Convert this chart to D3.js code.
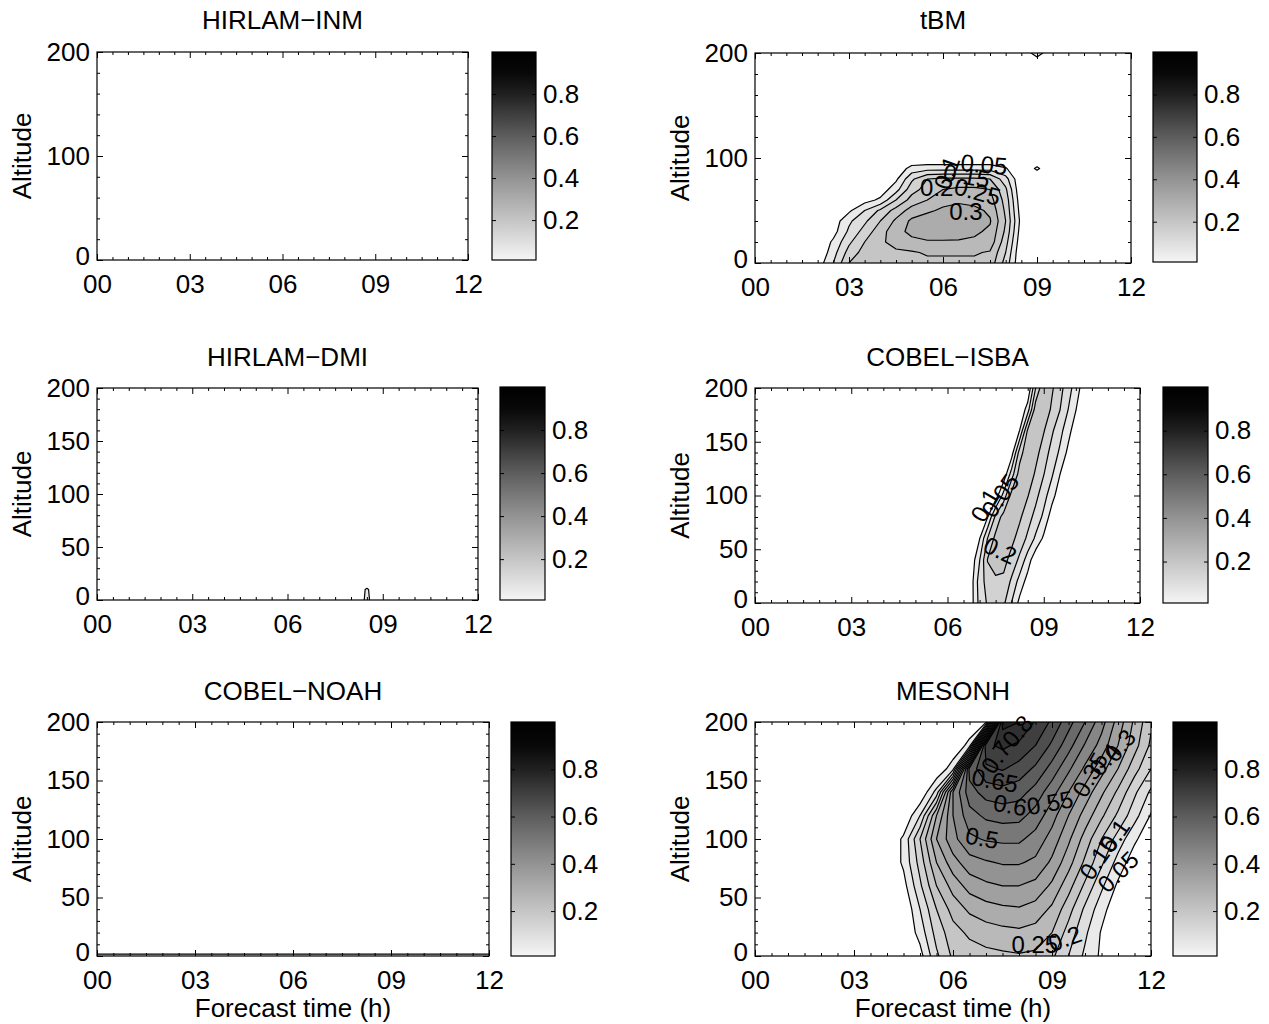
<!DOCTYPE html>
<html>
<head>
<meta charset="utf-8">
<script src="https://cdn.jsdelivr.net/npm/d3@7"></script>
<style>
  body { margin: 0; background: #fff; }
  svg text { font-family: "Liberation Sans", Arial, Helvetica, sans-serif; fill: #000; }
</style>
</head>
<body>
<svg id="fig" width="1269" height="1024"></svg>
<script>
// ---------------- data ----------------
const panelTitles = ["HIRLAM\u2212INM", "tBM", "HIRLAM\u2212DMI", "COBEL\u2212ISBA", "COBEL\u2212NOAH", "MESONH"];
const timeTicks = [0, 3, 6, 9, 12];
const altTicksWide = [0, 100, 200];
const altTicks = [0, 50, 100, 150, 200];
const colorbarTicks = [0.2, 0.4, 0.6, 0.8];
const contourLevels = [0.05, 0.1, 0.15, 0.2, 0.25, 0.3, 0.35, 0.4, 0.45, 0.5, 0.55, 0.6, 0.65, 0.7, 0.75, 0.8, 0.85, 0.9];

// gray colormap (value -> gray level)
const grayStopsValue = [0, 0.1, 0.2, 0.3, 0.4, 0.5, 0.6, 0.7, 0.8, 0.9, 1.0];
const grayStopsLevel = [245, 222, 197, 172, 147, 120, 93, 63, 32, 8, 0];

// tBM field: time 1.5..9.5 h (0.5 h), altitude 0..200 m (10 m); rows from the ground up
const tbmTime = [1.5, 2, 2.5, 3, 3.5, 4, 4.5, 5, 5.5, 6, 6.5, 7, 7.5, 8, 8.5, 9, 9.5];
const tbmAlt = [0, 10, 20, 30, 40, 50, 60, 70, 80, 90, 100, 110, 120, 130, 140, 150, 160, 170, 180, 190, 200];
const tbmRows = [
  [0, 0.02, 0.10, 0.20, 0.22, 0.23, 0.235, 0.24, 0.24, 0.24, 0.24, 0.24, 0.23, 0.13, 0, 0, 0],
  [0, 0, 0.08, 0.17, 0.22, 0.235, 0.24, 0.245, 0.255, 0.255, 0.255, 0.255, 0.245, 0.15, 0, 0, 0],
  [0, 0, 0.06, 0.14, 0.20, 0.24, 0.27, 0.285, 0.295, 0.295, 0.295, 0.29, 0.28, 0.17, 0.01, 0, 0],
  [0, 0, 0.03, 0.11, 0.17, 0.23, 0.28, 0.315, 0.325, 0.325, 0.32, 0.31, 0.29, 0.19, 0.02, 0, 0],
  [0, 0, 0.02, 0.09, 0.14, 0.20, 0.26, 0.31, 0.33, 0.33, 0.33, 0.32, 0.305, 0.20, 0.03, 0, 0],
  [0, 0, 0, 0.04, 0.10, 0.16, 0.22, 0.27, 0.29, 0.31, 0.32, 0.315, 0.29, 0.19, 0.02, 0, 0],
  [0, 0, 0, 0, 0.03, 0.06, 0.15, 0.22, 0.25, 0.28, 0.29, 0.28, 0.27, 0.18, 0.01, 0, 0],
  [0, 0, 0, 0, 0, 0.02, 0.08, 0.18, 0.22, 0.25, 0.26, 0.26, 0.25, 0.16, 0, 0, 0],
  [0, 0, 0, 0, 0, 0, 0.04, 0.14, 0.20, 0.21, 0.21, 0.21, 0.20, 0.12, 0, 0, 0],
  [0, 0, 0, 0, 0, 0, 0.01, 0.07, 0.08, 0.08, 0.08, 0.08, 0.08, 0.055, 0, 0, 0]
];
const tbmSpots = [[9, 200, 0.08], [9, 90, 0.06]];

// HIRLAM-DMI field: a single thin patch near the ground
const dmiTime = [7, 7.5, 8, 8.5, 9, 9.5];
const dmiAlt = [0, 10, 20, 30];
const dmiRows = [[0, 0, 0, 0.06, 0, 0], [0, 0, 0, 0.056, 0, 0]];

// COBEL-ISBA field: time 6.5..10.5 h (0.25 h), altitude 0..200 m (20 m)
const isbaTime = [6.5, 6.75, 7, 7.25, 7.5, 7.75, 8, 8.25, 8.5, 8.75, 9, 9.25, 9.5, 9.75, 10, 10.25, 10.5];
const isbaAlt = [0, 20, 40, 60, 80, 100, 120, 140, 160, 180, 200];
const isbaRows = [
  [0, 0.033, 0.117, 0.156, 0.166, 0.16, 0.098, 0.035, 0, 0, 0, 0, 0, 0, 0, 0, 0],
  [0, 0.033, 0.125, 0.17, 0.19, 0.19, 0.14, 0.08, 0.03, 0, 0, 0, 0, 0, 0, 0, 0],
  [0, 0.02, 0.098, 0.203, 0.225, 0.215, 0.183, 0.138, 0.075, 0.013, 0, 0, 0, 0, 0, 0, 0],
  [0, 0, 0.048, 0.152, 0.215, 0.235, 0.213, 0.18, 0.14, 0.09, 0.04, 0, 0, 0, 0, 0, 0],
  [0, 0, 0, 0.048, 0.163, 0.222, 0.248, 0.208, 0.171, 0.133, 0.088, 0.025, 0, 0, 0, 0, 0],
  [0, 0, 0, 0, 0.02, 0.12, 0.22, 0.245, 0.203, 0.164, 0.12, 0.07, 0.02, 0, 0, 0, 0],
  [0, 0, 0, 0, 0, 0.01, 0.125, 0.225, 0.235, 0.192, 0.152, 0.108, 0.052, 0, 0, 0, 0],
  [0, 0, 0, 0, 0, 0, 0.025, 0.175, 0.24, 0.217, 0.175, 0.133, 0.092, 0.04, 0, 0, 0],
  [0, 0, 0, 0, 0, 0, 0, 0.052, 0.21, 0.243, 0.203, 0.158, 0.117, 0.07, 0.02, 0, 0],
  [0, 0, 0, 0, 0, 0, 0, 0, 0.075, 0.23, 0.235, 0.192, 0.152, 0.102, 0.052, 0, 0],
  [0, 0, 0, 0, 0, 0, 0, 0, 0, 0.152, 0.245, 0.208, 0.167, 0.125, 0.075, 0.025, 0]
];

// COBEL-NOAH field: a thin layer at the ground
const noahTime = [0, 0.5, 1, 1.5, 2, 2.5, 3, 3.5, 4, 4.5, 5, 5.5, 6, 6.5, 7, 7.5, 8, 8.5, 9, 9.5, 10, 10.5, 11, 11.5, 12];
const noahAlt = [0, 10, 20];
const noahRows = [
  [0.06, 0.06, 0.06, 0.06, 0.06, 0.06, 0.06, 0.06, 0.06, 0.06, 0.06, 0.06, 0.06, 0.06, 0.06, 0.06, 0.06, 0.06, 0.06, 0.06, 0.06, 0.06, 0.06, 0.06, 0.06]
];

// MESONH field: time 4..12 h (0.5 h), altitude 0..200 m (20 m)
const mesonhTime = [4, 4.5, 5, 5.5, 6, 6.5, 7, 7.5, 8, 8.5, 9, 9.5, 10, 10.5, 11, 11.5, 12];
const mesonhAlt = [0, 20, 40, 60, 80, 100, 120, 140, 160, 180, 200];
const mesonhRows = [
  [0, 0, 0.03, 0.14, 0.21, 0.225, 0.235, 0.24, 0.245, 0.24, 0.21, 0.15, 0.09, 0.04, 0, 0, 0],
  [0, 0, 0.07, 0.17, 0.23, 0.26, 0.275, 0.285, 0.29, 0.28, 0.25, 0.18, 0.11, 0.045, 0, 0, 0],
  [0, 0, 0.10, 0.20, 0.27, 0.31, 0.33, 0.34, 0.345, 0.33, 0.29, 0.22, 0.14, 0.07, 0.01, 0, 0],
  [0, 0.03, 0.14, 0.25, 0.32, 0.37, 0.39, 0.40, 0.40, 0.385, 0.34, 0.27, 0.19, 0.11, 0.04, 0, 0],
  [0, 0.06, 0.17, 0.30, 0.38, 0.43, 0.445, 0.455, 0.455, 0.44, 0.39, 0.32, 0.24, 0.16, 0.08, 0.02, 0],
  [0, 0.06, 0.20, 0.35, 0.435, 0.49, 0.505, 0.51, 0.51, 0.48, 0.43, 0.36, 0.28, 0.20, 0.13, 0.06, 0.01],
  [0, 0, 0.10, 0.30, 0.45, 0.53, 0.56, 0.57, 0.566, 0.53, 0.47, 0.40, 0.33, 0.26, 0.19, 0.12, 0.045],
  [0, 0, 0, 0.12, 0.45, 0.58, 0.62, 0.63, 0.62, 0.58, 0.52, 0.45, 0.38, 0.31, 0.24, 0.16, 0.09],
  [0, 0, 0, 0, 0.083, 0.62, 0.69, 0.705, 0.68, 0.64, 0.58, 0.51, 0.44, 0.37, 0.30, 0.22, 0.15],
  [0, 0, 0, 0, 0, 0.07, 0.74, 0.76, 0.74, 0.70, 0.64, 0.57, 0.495, 0.43, 0.35, 0.27, 0.19],
  [0, 0, 0, 0, 0, 0, 0.04, 0.82, 0.80, 0.745, 0.69, 0.62, 0.55, 0.47, 0.38, 0.29, 0.21]
];

// inline contour labels: level, position (h, m) and text angle
const tbmLabels = [
  { level: 0.05, t: 7.31, a: 94, angle: 5 },
  { level: 0.1, t: 6.12, a: 86, angle: -70 },
  { level: 0.15, t: 6.75, a: 83, angle: 10 },
  { level: 0.2, t: 5.8, a: 72, angle: 0 },
  { level: 0.25, t: 7.1, a: 68, angle: 15 },
  { level: 0.3, t: 6.73, a: 49, angle: 0 }
];
const isbaLabels = [
  { level: 0.1, t: 7.17, a: 91, angle: -60 },
  { level: 0.05, t: 7.64, a: 100, angle: -55 },
  { level: 0.2, t: 7.64, a: 49, angle: 25 }
];
const mesonhLabels = [
  { level: 0.7, t: 7.3, a: 170, angle: -55 },
  { level: 0.8, t: 7.95, a: 192, angle: -50 },
  { level: 0.65, t: 7.27, a: 150, angle: 10 },
  { level: 0.6, t: 7.73, a: 129, angle: 10 },
  { level: 0.55, t: 8.94, a: 131, angle: -10 },
  { level: 0.5, t: 6.88, a: 101, angle: 10 },
  { level: 0.35, t: 10.15, a: 155, angle: -60 },
  { level: 0.4, t: 10.6, a: 168, angle: -50 },
  { level: 0.3, t: 11.06, a: 180, angle: -50 },
  { level: 0.1, t: 10.9, a: 103, angle: -55 },
  { level: 0.15, t: 10.4, a: 84, angle: -55 },
  { level: 0.05, t: 11.0, a: 72, angle: -45 },
  { level: 0.25, t: 8.48, a: 10, angle: 0 },
  { level: 0.2, t: 9.39, a: 15, angle: -20 }
];

// ---------------- layout ----------------
const layout = [
  { plot: [97, 468, 52, 260],   bar: [492, 536, 52, 260],   yTicks: altTicksWide, yMinor: 20, titleY: 29, xlab: false },
  { plot: [755, 1131, 53, 263], bar: [1153, 1197, 52, 262], yTicks: altTicksWide, yMinor: 20, titleY: 29, xlab: false },
  { plot: [97, 478, 388, 600],  bar: [500, 545, 387, 600],  yTicks: altTicks, yMinor: 10, titleY: 366, xlab: false },
  { plot: [755, 1140, 388, 603], bar: [1163, 1208, 387, 603], yTicks: altTicks, yMinor: 10, titleY: 366, xlab: false },
  { plot: [97, 489, 722, 956],  bar: [511, 555, 722, 956],  yTicks: altTicks, yMinor: 10, titleY: 700, xlab: true },
  { plot: [755, 1151, 722, 956], bar: [1173, 1217, 722, 956], yTicks: altTicks, yMinor: 10, titleY: 700, xlab: true }
];

// ---------------- helpers ----------------
function buildField(times, alts, rows, spots) {
  const nx = times.length, ny = alts.length;
  const values = new Array(nx * ny).fill(0);
  rows.forEach((r, j) => r.forEach((v, i) => { values[j * nx + i] = v; }));
  (spots || []).forEach(([t, a, v]) => {
    const i = times.indexOf(t), j = alts.indexOf(a);
    values[j * nx + i] = v;
  });
  return { times, alts, values, nx, ny };
}

const fields = [
  null,
  buildField(tbmTime, tbmAlt, tbmRows, tbmSpots),
  buildField(dmiTime, dmiAlt, dmiRows),
  buildField(isbaTime, isbaAlt, isbaRows),
  buildField(noahTime, noahAlt, noahRows),
  buildField(mesonhTime, mesonhAlt, mesonhRows)
];
const labelSets = [[], tbmLabels, [], isbaLabels, [], mesonhLabels];

const grayScale = d3.scaleLinear().domain(grayStopsValue).range(grayStopsLevel).clamp(true);
const grayOf = v => { const g = Math.round(grayScale(v)); return `rgb(${g},${g},${g})`; };

const svg = d3.select("#fig");
const defs = svg.append("defs");

// shared colorbar gradient (bottom = 0.01, top = 1.0)
const cbDomain = [0.01, 1.0];
const grad = defs.append("linearGradient").attr("id", "cbGrad")
  .attr("x1", 0).attr("y1", 1).attr("x2", 0).attr("y2", 0);
grayStopsValue.forEach(v => {
  const off = Math.max(0, (v - cbDomain[0]) / (cbDomain[1] - cbDomain[0]));
  grad.append("stop").attr("offset", off).attr("stop-color", grayOf(v));
});

const FS = 26;

layout.forEach((L, k) => {
  const [x0, x1, y0, y1] = L.plot;
  const x = d3.scaleLinear().domain([0, 12]).range([x0, x1]);
  const y = d3.scaleLinear().domain([0, 200]).range([y1, y0]);
  const g = svg.append("g");

  defs.append("clipPath").attr("id", "clip" + k)
    .append("rect").attr("x", x0).attr("y", y0).attr("width", x1 - x0).attr("height", y1 - y0);

  // filled contours
  const f = fields[k];
  if (f) {
    const dt = f.times[1] - f.times[0], da = f.alts[1] - f.alts[0];
    const proj = d3.geoTransform({
      point(px, py) {
        this.stream.point(x(f.times[0] + (px - 0.5) * dt), y(f.alts[0] + (py - 0.5) * da));
      }
    });
    const path = d3.geoPath(proj);
    const sets = d3.contours().size([f.nx, f.ny]).thresholds(contourLevels)(f.values)
      .filter(c => c.coordinates.length);
    g.append("g").attr("clip-path", `url(#clip${k})`)
      .selectAll("path").data(sets).join("path")
      .attr("d", path)
      .attr("fill", d => grayOf(d.value))
      .attr("stroke", "#000")
      .attr("stroke-width", 1.2)
      .attr("stroke-linejoin", "round");
  }

  // contour labels
  g.append("g").selectAll("text").data(labelSets[k]).join("text")
    .attr("transform", d => `translate(${x(d.t)},${y(d.a)}) rotate(${d.angle})`)
    .attr("text-anchor", "middle")
    .attr("dominant-baseline", "central")
    .attr("font-size", 24)
    .text(d => String(d.level));

  // axes (ticks pointing inward)
  const xMinor = d3.range(0, 12.01, 0.5).filter(v => v % 3 !== 0);
  const yMinor = d3.range(0, 200.01, L.yMinor).filter(v => !L.yTicks.includes(v));

  const styleAxis = sel => {
    sel.select(".domain").remove();
    sel.selectAll("line").attr("stroke", "#000").attr("stroke-width", 1);
    sel.selectAll("text").attr("font-size", FS);
    sel.attr("font-family", null).attr("font-size", null);
  };

  g.append("g").attr("transform", `translate(0,${y1})`)
    .call(d3.axisBottom(x).tickValues(timeTicks).tickSizeInner(-6).tickSizeOuter(0)
      .tickPadding(15).tickFormat(d3.format("02d"))).call(styleAxis);
  g.append("g").attr("transform", `translate(0,${y1})`)
    .call(d3.axisBottom(x).tickValues(xMinor).tickSizeInner(-3).tickSizeOuter(0).tickFormat("")).call(styleAxis);
  g.append("g").attr("transform", `translate(0,${y0})`)
    .call(d3.axisTop(x).tickValues(timeTicks).tickSizeInner(-6).tickSizeOuter(0).tickFormat("")).call(styleAxis);
  g.append("g").attr("transform", `translate(0,${y0})`)
    .call(d3.axisTop(x).tickValues(xMinor).tickSizeInner(-3).tickSizeOuter(0).tickFormat("")).call(styleAxis);

  const yAxisG = g.append("g").attr("transform", `translate(${x0},0)`)
    .call(d3.axisLeft(y).tickValues(L.yTicks).tickSizeInner(-6).tickSizeOuter(0)
      .tickPadding(7).tickFormat(d3.format("d"))).call(styleAxis);
  // lift the lowest label slightly so it clears the time labels below it
  yAxisG.selectAll(".tick text").filter(d => d === 0).attr("y", -4);
  g.append("g").attr("transform", `translate(${x0},0)`)
    .call(d3.axisLeft(y).tickValues(yMinor).tickSizeInner(-3).tickSizeOuter(0).tickFormat("")).call(styleAxis);
  g.append("g").attr("transform", `translate(${x1},0)`)
    .call(d3.axisRight(y).tickValues(L.yTicks).tickSizeInner(-6).tickSizeOuter(0).tickFormat("")).call(styleAxis);
  g.append("g").attr("transform", `translate(${x1},0)`)
    .call(d3.axisRight(y).tickValues(yMinor).tickSizeInner(-3).tickSizeOuter(0).tickFormat("")).call(styleAxis);

  // frame
  g.append("rect").attr("x", x0).attr("y", y0).attr("width", x1 - x0).attr("height", y1 - y0)
    .attr("fill", "none").attr("stroke", "#000").attr("stroke-width", 1.2);

  // title and axis titles
  g.append("text").attr("x", (x0 + x1) / 2).attr("y", L.titleY)
    .attr("text-anchor", "middle").attr("font-size", FS).text(panelTitles[k]);
  g.append("text")
    .attr("transform", `translate(${x0 - 75},${(y0 + y1) / 2}) rotate(-90)`)
    .attr("text-anchor", "middle").attr("dominant-baseline", "central")
    .attr("font-size", FS).text("Altitude");
  if (L.xlab) {
    g.append("text").attr("x", (x0 + x1) / 2).attr("y", 1017)
      .attr("text-anchor", "middle").attr("font-size", FS).text("Forecast time (h)");
  }

  // colorbar
  const [bx0, bx1, by0, by1] = L.bar;
  const cb = d3.scaleLinear().domain(cbDomain).range([by1, by0]);
  g.append("rect").attr("x", bx0).attr("y", by0).attr("width", bx1 - bx0).attr("height", by1 - by0)
    .attr("fill", "url(#cbGrad)").attr("stroke", "#000").attr("stroke-width", 1.2);
  g.append("g").attr("transform", `translate(${bx1},0)`)
    .call(d3.axisRight(cb).tickValues(colorbarTicks).tickSizeInner(-4).tickSizeOuter(0)
      .tickPadding(7).tickFormat(d3.format(".1f"))).call(styleAxis);
  g.append("g").attr("transform", `translate(${bx0},0)`)
    .call(d3.axisLeft(cb).tickValues(colorbarTicks).tickSizeInner(-4).tickSizeOuter(0).tickFormat("")).call(styleAxis);
});
</script>
</body>
</html>
